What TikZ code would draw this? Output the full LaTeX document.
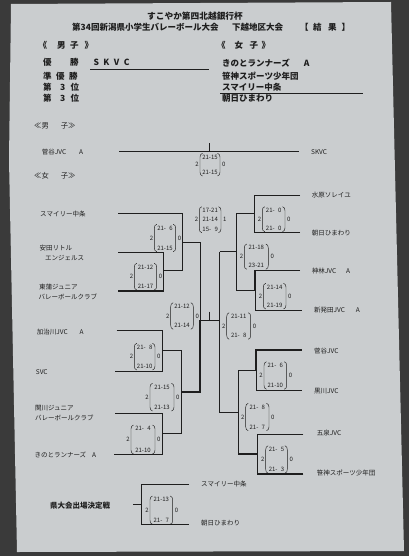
\documentclass[tikz,border=0pt]{standalone}
\usepackage{fontspec}
\setmainfont{Noto Sans CJK JP}
\definecolor{paper}{RGB}{202,205,207}
\definecolor{desk}{RGB}{58,58,58}
\definecolor{ink}{RGB}{30,30,30}

% score: name, left x, right x, top y, bottom y, sets won, sets lost, first game, last game
\newcommand{\setscore}[9]{%
  \draw[paren] (#2+2.5,#4) .. controls (#2+0.7,#4+0.3) and (#2,#4+2) .. (#2,#4+4) -- (#2,#5-4) .. controls (#2,#5-2) and (#2+0.7,#5-0.3) .. (#2+2.5,#5);
  \draw[paren] (#3-2.5,#4) .. controls (#3-0.7,#4+0.3) and (#3,#4+2) .. (#3,#4+4) -- (#3,#5-4) .. controls (#3,#5-2) and (#3-0.7,#5-0.3) .. (#3-2.5,#5);
  \node[sets,anchor=east] (#1-w) at (#2-1,{(#4+#5)/2}) {#6};
  \node[sets,anchor=west] (#1-l) at (#3+2,{(#4+#5)/2}) {#7};
  \node[pts] (#1-a) at ({(#2+#3)/2},#4+3.8) {#8};
  \node[pts] (#1-b) at ({(#2+#3)/2},#5-3.8) {#9};
}

\begin{document}
\begin{tikzpicture}[x=1pt,y=-1pt,
  win/.style={ink,line width=1.1pt},
  lose/.style={ink,line width=0.5pt},
  paren/.style={ink,line width=0.45pt},
  head/.style={ink,anchor=west,inner sep=0,font=\fontsize{8.5}{9}\selectfont\bfseries},
  team/.style={ink,anchor=west,inner sep=0,font=\fontsize{6.5}{7}\selectfont},
  sets/.style={ink,inner sep=0,font=\fontsize{6}{6}\selectfont},
  pts/.style={ink,inner sep=0,font=\fontsize{6}{6}\selectfont}]

\fill[desk] (0,0) rectangle (409,556);
\fill[paper] (11,4) -- (391,2) -- (404,551) -- (17,552) -- (9,160) -- cycle;

% heading
\node[ink,inner sep=0,font=\fontsize{8.7}{9}\selectfont\bfseries] (cup) at (195,15.7) {すこやか第四北越銀行杯};
\node[head] (meet) at (72,27.3) {第34回新潟県小学生バレーボール大会};
\node[head] (district) at (232,27.3) {下越地区大会};
\node[head] (result) at (300,27.3) {【\hspace{4.5pt}結\hspace{6.5pt}果\hspace{5pt}】};

\node[head] (boysHead) at (38.5,45.7) {《\hspace{10pt}男\hspace{4.5pt}子\hspace{6pt}》};
\node[head] (girlsHead) at (217,45.7) {《\hspace{9pt}女\hspace{6.5pt}子\hspace{3.5pt}》};

\node[head] (rank1) at (43,62.7) {優\hspace{18.5pt}勝};
\node[head] (rank2) at (43,76) {準\hspace{4.5pt}優\hspace{4.5pt}勝};
\node[head] (rank3) at (43,87.3) {第\hspace{8.5pt}3\hspace{5.3pt}位};
\node[head] (rank4) at (43,98.7) {第\hspace{8.5pt}3\hspace{5.3pt}位};
\node[head] (boysWin) at (93.3,62.7) {S\hspace{4.5pt}K\hspace{4.5pt}V\hspace{4.5pt}C};
\node[head] (girls1) at (222,62.7) {きのとランナーズ\hspace{14pt}A};
\node[head] (girls2) at (222,76) {笹神スポーツ少年団};
\node[head] (girls3) at (222,87.3) {スマイリー中条};
\node[head] (girls4) at (222,98.7) {朝日ひまわり};
\draw[lose] (90,69.3) -- (209,69.3);
\draw[lose] (220,93.3) -- (363,93.3);

% boys
\node[team,font=\fontsize{7.3}{8}\selectfont] (boysSec) at (34,125.7) {≪男\hspace{12pt}子≫};
\node[team] (sugayaA) at (41.7,151.7) {菅谷JVC\hspace{13pt}A};
\node[team] (skvc) at (311,151.7) {SKVC};
\draw[lose] (119,151.7) -- (209.3,151.7);
\draw[win] (209.3,143.3) -- (209.3,151.7) -- (299.3,151.7);
\setscore{boys}{200}{220}{153.3}{176}{2}{0}{21-15}{21-15}

% girls
\node[team,font=\fontsize{7.3}{8}\selectfont] (girlsSec) at (34,175.7) {≪女\hspace{12pt}子≫};

\node[team] (smiley) at (40,213.7) {スマイリー中条};
\node[team] (yasuda) at (39.3,248.3) {安田リトル};
\node[team] (yasuda2) at (45,258.3) {エンジェルス};
\node[team] (tokan) at (39,287.3) {東蒲ジュニア};
\node[team] (tokan2) at (38.3,296.7) {バレーボールクラブ};
\node[team] (kajikawa) at (36.7,332.3) {加治川JVC\hspace{12pt}A};
\node[team] (svc) at (35.7,371.7) {SVC};
\node[team] (sekikawa) at (35,408.3) {関川ジュニア};
\node[team] (sekikawa2) at (35,418.3) {バレーボールクラブ};
\node[team] (kinoto) at (34.3,455) {きのとランナーズ\hspace{6pt}A};

\node[team] (mizuhara) at (311.7,195) {水原ソレイユ};
\node[team] (asahi) at (311.7,232.7) {朝日ひまわり};
\node[team] (kanbayashi) at (311.7,270.7) {神林JVC\hspace{10pt}A};
\node[team] (shibata) at (314,310) {新発田JVC\hspace{11pt}A};
\node[team] (sugaya) at (314,350.7) {菅谷JVC};
\node[team] (kurokawa) at (314,390.7) {黒川JVC};
\node[team] (gosen) at (316.7,432.7) {五泉JVC};
\node[team] (sasakami) at (316.7,473.3) {笹神スポーツ少年団};

% left half
\draw[win] (118,213.7) -- (182.3,213.7) -- (182.3,242.3) -- (200,242.3);
\draw[lose] (118,252.3) -- (163.3,252.3) -- (163.3,270.7);
\draw[win] (118,291) -- (163.3,291) -- (163.3,270.7) -- (182.3,270.7);
\draw[lose] (182.3,242.3) -- (182.3,270.7);
\draw[lose] (200,242.3) -- (200,320.5);
\draw[win] (116.7,330.7) -- (162.7,330.7) -- (162.7,350.7) -- (181.7,350.7);
\draw[lose] (115,371) -- (162.7,371) -- (162.7,350.7);
\draw[lose] (115,413.3) -- (162.7,413.3) -- (162.7,433.3);
\draw[win] (114.3,454.3) -- (162.7,454.3) -- (162.7,433.3) -- (181.7,433.3) -- (181.7,392) -- (200,392) -- (200,320.5) -- (209.3,320.5);
\draw[lose] (181.7,350.7) -- (181.7,392);
\draw[win] (209.3,311.7) -- (209.3,320.5);
\draw[lose] (209.3,320.5) -- (219.5,320.5);

% right half
\draw[lose] (300,195) -- (254.3,195) -- (254.3,213.3);
\draw[win] (300,232.7) -- (254.3,232.7) -- (254.3,213.3) -- (236.7,213.3) -- (236.7,251.7) -- (219.5,251.7);
\draw[win] (300,270.7) -- (255,270.7) -- (255,290.7) -- (236.7,290.7);
\draw[lose] (301.7,310.3) -- (255,310.3) -- (255,290.7);
\draw[lose] (236.7,251.7) -- (236.7,290.7);
\draw[lose] (219.5,251.7) -- (219.5,320.5);
\draw[win] (301.7,350) -- (256,350) -- (256,370.7) -- (238.3,370.7);
\draw[lose] (301.7,390.7) -- (256,390.7) -- (256,370.7);
\draw[lose] (303.3,434) -- (257.3,434) -- (257.3,454);
\draw[win] (303.3,474) -- (257.3,474) -- (257.3,454) -- (238.3,454) -- (238.3,412.3) -- (219.5,412.3) -- (219.5,320.5);
\draw[lose] (238.3,370.7) -- (238.3,412.3);

\setscore{yasudaM}{134.3}{156.7}{263.3}{290}{2}{0}{21-12}{21-17}
\setscore{smileyM}{154.3}{175.7}{224.3}{251.7}{2}{0}{21-\phantom{1}6}{21-15}
\setscore{semiL}{199.3}{221}{206.7}{232.7}{2}{1}{17-21}{15-\phantom{1}9}
\node[pts] (semiL-m) at (210.2,219.7) {21-14};
\setscore{kajikawaM}{134.3}{155}{343.3}{370}{2}{0}{21-\phantom{1}8}{21-10}
\setscore{sekikawaM}{131}{155}{425}{454}{2}{0}{21-\phantom{1}4}{21-10}
\setscore{quarterL}{150}{174}{383.3}{411}{2}{0}{21-15}{21-13}
\setscore{final}{170.7}{193.3}{302.7}{329.3}{2}{0}{21-12}{21-14}
\setscore{mizuharaM}{262.3}{285}{206.7}{231.7}{2}{0}{21-\phantom{1}0}{21-\phantom{1}0}
\setscore{quarterR}{244.3}{268.3}{244}{269.3}{2}{0}{21-18}{23-21}
\setscore{kanbayashiM}{263.3}{286}{283.3}{309}{2}{0}{21-14}{21-19}
\setscore{semiR}{226.7}{250.7}{312.7}{339.3}{2}{0}{21-11}{21-\phantom{1}8}
\setscore{sugayaM}{264}{286.7}{361.7}{389.3}{2}{0}{21-\phantom{1}6}{21-10}
\setscore{quarterR2}{245.7}{269}{403.3}{430.7}{2}{0}{21-\phantom{1}8}{21-\phantom{1}7}
\setscore{gosenM}{265.7}{287.3}{445.7}{473.3}{2}{0}{21-\phantom{1}5}{21-\phantom{1}3}

% play-off
\node[team,font=\fontsize{7.5}{8}\selectfont\bfseries] (playoffT) at (50,505.7) {県大会出場決定戦};
\node[team] (smiley2) at (201,484.3) {スマイリー中条};
\node[team] (asahi2) at (201,523.3) {朝日ひまわり};
\draw[win] (133.3,504.3) -- (141.7,504.3);
\draw[win] (189,484.3) -- (141.7,484.3) -- (141.7,504.3);
\draw[lose] (141.7,504.3) -- (141.7,524.3) -- (189,524.3);
\setscore{playoff}{150}{172.7}{496}{524.3}{2}{0}{21-13}{21-\phantom{1}7}

\end{tikzpicture}
\end{document}
